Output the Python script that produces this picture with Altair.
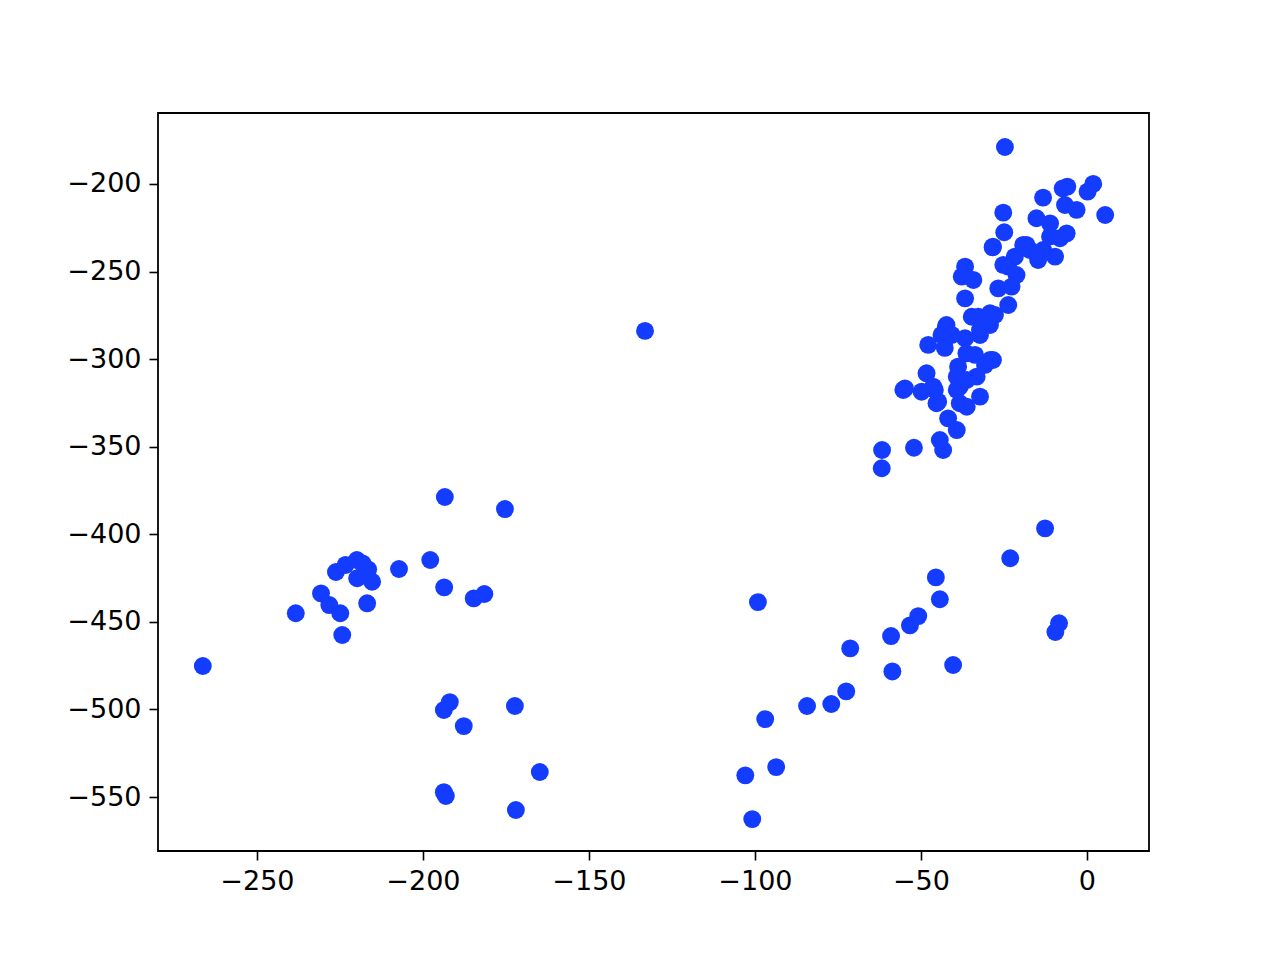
import altair as alt
import pandas as pd

x_vals = [
    # upper-right cluster
    -5.9, 1.9, -7.3, 0.2, -13.2, 5.5, -25.2, -24.9, -28.4, -6.6, -3.1, -15.2, -6.1, -11.1,
    -9.6, -19.2, -17.2, -13.2, -14.7, -21.7, -25.2, -8.1, -11.1, -24.7,
    -28.3, -18.2, -36.7, -37.7, -34.2, -23.7, -21.2, -26.7, -22.7, -36.7, -23.7, -32.7,
    -27.7, -42.3, -29.2,
    -42.5, -47.8, -43.8, -36.7, -32.2, -34.7, -29.2, -29.2, -38.8, -36.3, -48.3, -54.8,
    -46.3, -38.3, -33.2, -32.2, -44.8, -38.3,
    -55.3, -49.8, -45.8, -45.3, -39.2, -36.2, -41.8, -39.2, -44.3, -43.3, -52.1, -61.7,
    -61.8, -39.2, -36.2, -33.7, -30.7, -28.3, -40.7, -42.8, -32.2,
    # lone middle point
    -133.1,
    # lower-right group
    -99.1, -12.6, -23.1, -45.5, -44.3, -50.8, -53.3, -59.0, -71.3, -58.6, -40.3, -8.4,
    -9.5, -72.5, -77.0, -84.3, -96.9, -93.6, -102.9, -100.8,
    # left group
    -175.3, -193.4, -238.3, -230.7, -228.2, -224.9, -224.3, -226.2, -223.3, -219.9,
    -218.2, -216.5, -219.8, -215.3, -216.8, -207.2, -197.8, -193.6, -184.7, -181.5,
    -266.3,
    # lower-left group
    -193.7, -191.9, -187.7, -172.3, -193.7, -193.1, -164.8, -172.0,
]

y_vals = [
    -201.5, -200.0, -202.5, -204.4, -207.8, -217.7, -216.4, -227.6, -236.2, -212.0, -214.8,
    -219.6, -228.2, -222.5, -241.5, -234.8, -237.7, -237.7, -243.4, -241.5, -246.2, -231.0,
    -230.0, -178.9,
    -235.8, -234.8, -247.2, -252.9, -254.8, -247.2, -252.0, -259.6, -258.6, -265.3, -269.1,
    -275.8, -274.8, -280.5, -280.5,
    -281.5, -291.9, -286.2, -288.1, -286.2, -275.8, -273.8, -300.5, -304.3, -296.7, -308.1,
    -316.7, -315.7, -315.7, -310.0, -321.4, -324.3, -325.2,
    -317.6, -318.6, -317.6, -325.2, -317.6, -327.2, -333.8, -340.5, -346.2, -351.9, -350.6,
    -351.9, -362.3, -310.0, -311.9, -297.6, -303.3, -300.5, -286.2, -293.6, -283.4,
    -283.9,
    -438.7, -396.6, -413.7, -424.6, -437.1, -446.7, -452.0, -458.1, -465.1, -478.3, -474.6,
    -450.8, -455.8, -489.7, -496.9, -498.0, -505.5, -532.9, -537.6, -562.6,
    -385.6, -378.7, -445.1, -433.7, -440.4, -445.1, -457.5, -421.5, -417.5, -414.7, -416.6,
    -420.0, -425.1, -427.1, -439.4, -419.8, -414.7, -430.3, -436.6, -434.1,
    -475.2,
    -500.3, -495.8, -509.5, -498.0, -547.2, -549.4, -535.7, -557.4,
]

x_ticks = [-250, -200, -150, -100, -50, 0]
y_ticks = [-550, -500, -450, -400, -350, -300, -250, -200]

df = pd.DataFrame({"x": x_vals, "y": y_vals})

font = "DejaVu Sans"

chart = (
    alt.Chart(df)
    .mark_circle(size=320, color="#143cff", opacity=1)
    .encode(
        x=alt.X(
            "x:Q",
            scale=alt.Scale(domain=[-279.8, 18.7], nice=False, zero=False),
            axis=alt.Axis(
                values=x_ticks, title=None, grid=False, domain=False,
                tickColor="black", tickWidth=1.6, tickSize=9, labelPadding=8,
                labelFont=font, labelFontSize=27, labelColor="black",
                labelExpr="replace(datum.label, '-', '−')",
            ),
        ),
        y=alt.Y(
            "y:Q",
            scale=alt.Scale(domain=[-580.8, -159.5], nice=False, zero=False),
            axis=alt.Axis(
                values=y_ticks, title=None, grid=False, domain=False,
                tickColor="black", tickWidth=1.6, tickSize=9, labelPadding=8,
                labelFont=font, labelFontSize=27, labelColor="black",
                labelExpr="replace(datum.label, '-', '−')",
            ),
        ),
    )
    .properties(
        width=991,
        height=738,
        background="white",
        autosize=alt.AutoSizeParams(type="none"),
        padding={"left": 150, "top": 105, "right": 121, "bottom": 97},
    )
    .configure_view(stroke="black", strokeWidth=1.8)
)

chart.save("out.html", embed_options={"renderer": "svg", "actions": False})
